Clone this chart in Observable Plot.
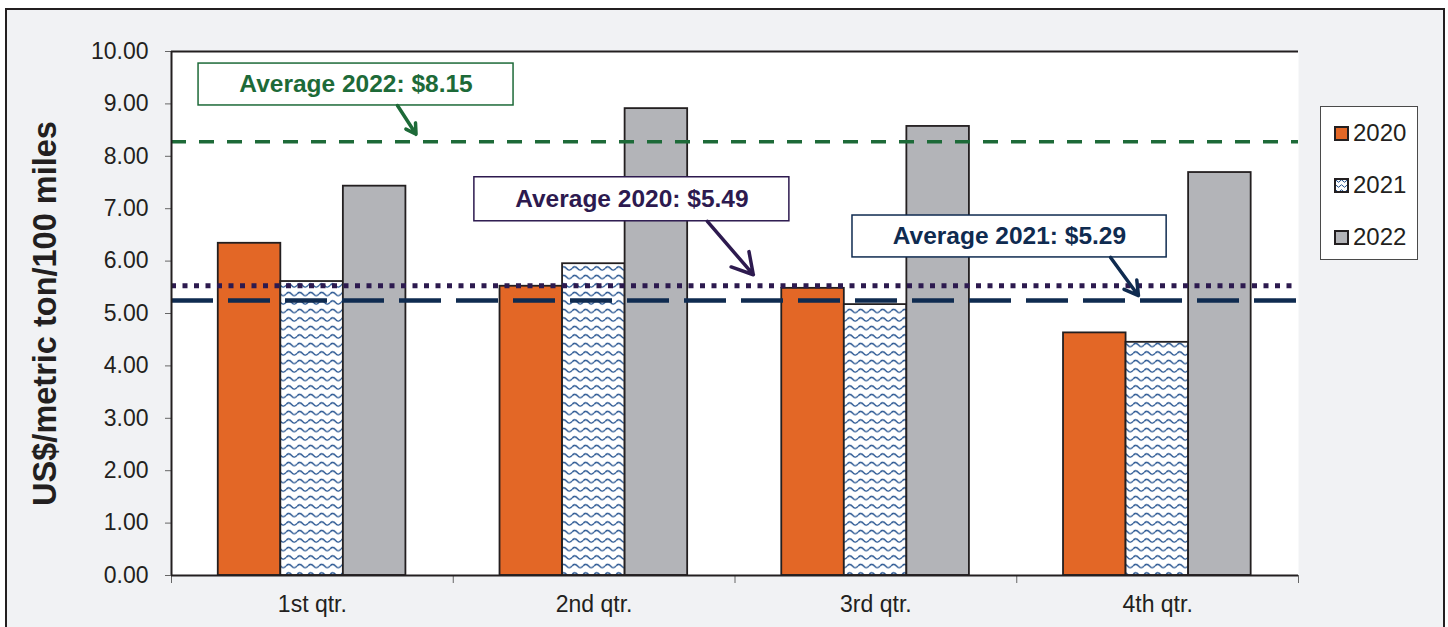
<!DOCTYPE html>
<html><head><meta charset="utf-8">
<script src="https://cdn.jsdelivr.net/npm/d3@7"></script>
<script src="https://cdn.jsdelivr.net/npm/@observablehq/plot@0.6"></script>
<style>
body{margin:0;background:#fff;font-family:"Liberation Sans",Arial,sans-serif;}
#wrap{position:relative;width:1448px;height:627px;overflow:hidden;}
#bg{position:absolute;left:5px;top:8px;width:1436px;height:660px;border:2.5px solid #231f20;background:#f1f2f4;}
#chart{position:absolute;left:0;top:0;}
#legend{position:absolute;left:1320px;top:106px;width:96px;height:152px;background:#fff;border:1px solid #4a4a4a;}
.item{position:absolute;left:13px;display:flex;align-items:center;font-size:24px;color:#231f20;line-height:1;}
.item svg{margin-right:4px;}
</style></head>
<body>
<div id="wrap"><div id="bg"></div><div id="chart"></div><div id="legend"></div></div>
<script>
const quarters = ["1st qtr.", "2nd qtr.", "3rd qtr.", "4th qtr."];
const years = ["2020", "2021", "2022"];
const values2020 = [6.34, 5.52, 5.48, 4.63];
const values2021 = [5.61, 5.95, 5.17, 4.45];
const values2022 = [7.43, 8.91, 8.57, 7.69];
const avgLevels = [8.28, 5.53, 5.25];          // drawn lines for 2022, 2020, 2021
const avgLabels = ["Average 2022: $8.15", "Average 2020: $5.49", "Average 2021: $5.29"];
const yTicks = [0, 1, 2, 3, 4, 5, 6, 7, 8, 9, 10];

const series = [values2020, values2021, values2022];
const fills = ["#e36726", "url(#wave)", "#b3b4b8"];
const ink = "#231f20";
const green = "#1d6a38", purple = "#2d1a4f", navy = "#0f2b50";

const groupOffset = 0.166, barW = 0.222;

const barMarks = years.map((yr, si) =>
  Plot.rectY(series[si].map((v, qi) => ({qi, value: v})), {
    x1: d => d.qi + groupOffset + si * barW,
    x2: d => d.qi + groupOffset + (si + 1) * barW,
    y1: 0, y2: "value",
    fill: fills[si], stroke: ink, strokeWidth: 1.8
  })
);

const annotations = [
  {label: avgLabels[0], color: green, bx1: 0.096, bx2: 1.214, by1: 8.97, by2: 9.77, tx: 0.655, ty: 9.37, ax1: 0.802, ay1: 8.97, ax2: 0.868, ay2: 8.42},
  {label: avgLabels[1], color: purple, bx1: 1.075, bx2: 2.193, by1: 6.76, by2: 7.60, tx: 1.634, ty: 7.18, ax1: 1.902, ay1: 6.76, ax2: 2.065, ay2: 5.74},
  {label: avgLabels[2], color: navy, bx1: 2.417, bx2: 3.532, by1: 6.07, by2: 6.87, tx: 2.974, ty: 6.47, ax1: 3.333, ay1: 6.07, ax2: 3.432, ay2: 5.34}
];

const svg = Plot.plot({
  width: 1448, height: 627,
  marginLeft: 171, marginRight: 150, marginTop: 51, marginBottom: 52,
  style: {background: "transparent", fontFamily: "'Liberation Sans', Arial, sans-serif", color: ink},
  x: {domain: [0, 4], axis: null},
  y: {domain: [0, 10], axis: null},
  marks: [
    Plot.frame({fill: "white", stroke: null}),
    ...barMarks,
    Plot.ruleY([avgLevels[0]], {stroke: green, strokeWidth: 3.5, strokeDasharray: "15,13"}),
    Plot.ruleY([avgLevels[1]], {stroke: purple, strokeWidth: 5, strokeDasharray: "5,6.5"}),
    Plot.ruleY([avgLevels[2]], {stroke: navy, strokeWidth: 4.5, strokeDasharray: "42,15"}),
    Plot.axisY({ticks: yTicks, tickFormat: d3.format(".2f"), tickSize: 6, tickPadding: 17, fontSize: 23, stroke: "#666", label: null, fill: ink}),
    Plot.axisX({ticks: [0, 1, 2, 3, 4], tickFormat: () => "", tickSize: 8, stroke: "#666", label: null}),
    Plot.axisX({ticks: [0.5, 1.5, 2.5, 3.5], tickFormat: d => quarters[Math.floor(d)], tickSize: 0, tickPadding: 20, fontSize: 23, label: null, fill: ink}),
    Plot.ruleX([0], {stroke: ink, strokeWidth: 2}),
    Plot.ruleY([0], {stroke: ink, strokeWidth: 2}),
    Plot.ruleY([10], {stroke: ink, strokeWidth: 2}),
    Plot.text(["US$/metric ton/100 miles"], {frameAnchor: "left", dx: -126, dy: 0, rotate: -90, textAnchor: "middle", fontSize: 32.5, fontWeight: "bold", fill: ink, text: d => d}),
    Plot.rect(annotations, {x1: "bx1", x2: "bx2", y1: "by1", y2: "by2", fill: "white", stroke: d => d.color, strokeWidth: 1.5}),
    Plot.text(annotations, {x: "tx", y: "ty", text: "label", fill: d => d.color, fontSize: 24.5, fontWeight: "bold"}),
    Plot.arrow(annotations, {x1: "ax1", y1: "ay1", x2: "ax2", y2: "ay2", stroke: d => d.color, strokeWidth: 3.5, headLength: 13})
  ],
  color: {type: "identity"}
});

const defs = d3.select(svg).insert("defs", ":first-child");
const pat = defs.append("pattern").attr("id", "wave").attr("patternUnits", "userSpaceOnUse").attr("width", 11).attr("height", 8.5);
pat.append("rect").attr("width", 11).attr("height", 8.5).attr("fill", "white");
pat.append("path").attr("d", "M0,5 Q2.75,1.5 5.5,5 T11,5").attr("fill", "none").attr("stroke", "#1f4e8c").attr("stroke-width", 1.3);
document.getElementById("chart").appendChild(svg);

const legend = d3.select("#legend");
const tops = [14, 66, 118];
years.forEach((yr, i) => {
  const it = legend.append("div").attr("class", "item").style("top", tops[i] + "px");
  const s = it.append("svg").attr("width", 15).attr("height", 15);
  if (i === 1) {
    const p = s.append("defs").append("pattern").attr("id", "wave2").attr("patternUnits", "userSpaceOnUse").attr("width", 6).attr("height", 5);
    p.append("rect").attr("width", 6).attr("height", 5).attr("fill", "white");
    p.append("path").attr("d", "M0,3 Q1.5,0.5 3,3 T6,3").attr("fill", "none").attr("stroke", "#1f4e8c").attr("stroke-width", 1);
  }
  s.append("rect").attr("x", 1).attr("y", 1).attr("width", 13).attr("height", 13)
    .attr("fill", i === 1 ? "url(#wave2)" : fills[i]).attr("stroke", ink).attr("stroke-width", 2);
  it.append("span").text(yr);
});
</script>
</body></html>
